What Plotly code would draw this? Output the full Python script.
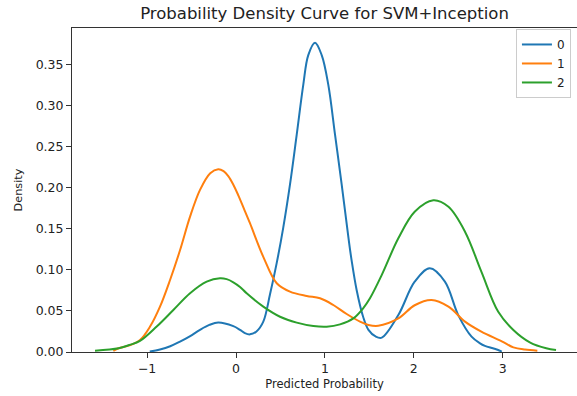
import plotly.graph_objects as go

# Values
x0 = [-0.97, -0.855, -0.74, -0.63, -0.52, -0.405, -0.3, -0.2, -0.03, 0.045, 0.1, 0.157, 0.23, 0.307, 0.382, 0.457, 0.532,
      0.607, 0.683, 0.757, 0.813, 0.889, 0.964, 1.038, 1.114, 1.189, 1.264, 1.30, 1.357, 1.43, 1.49, 1.57, 1.64, 1.826, 2.01,
      2.18, 2.35, 2.50, 2.65, 2.745, 2.80, 2.89, 2.95, 2.99]
y0 = [0.0005, 0.003, 0.007, 0.0126, 0.019, 0.027, 0.033, 0.036, 0.0315, 0.027, 0.023, 0.0215, 0.025, 0.037, 0.07, 0.108, 0.152,
      0.204, 0.265, 0.326, 0.362, 0.377, 0.362, 0.326, 0.265, 0.204, 0.140, 0.112, 0.0756, 0.043, 0.027, 0.019, 0.0175, 0.045, 0.0857,
      0.102, 0.0857, 0.045, 0.0187, 0.0106, 0.0075, 0.0045, 0.0024, 0.0005]

x1 = [-1.38, -1.32, -1.2, -1.08, -0.967, -0.855, -0.742, -0.63, -0.517, -0.405, -0.29, -0.2, -0.14, -0.087, -0.03, 0.026, 0.09,
      0.157, 0.307, 0.458, 0.607, 0.795, 0.945, 1.095, 1.245, 1.395, 1.49, 1.60, 1.826, 2.01, 2.20, 2.39, 2.576, 2.76, 2.99,
      3.12, 3.25, 3.39]
y1 = [0.0015, 0.0045, 0.008, 0.0146, 0.031, 0.0553, 0.0878, 0.124, 0.165, 0.1976, 0.218, 0.2228, 0.2205, 0.2145, 0.204, 0.191, 0.1745,
      0.157, 0.116, 0.0838, 0.0736, 0.0683, 0.0655, 0.0573, 0.0463, 0.037, 0.033, 0.032, 0.041, 0.057, 0.0634, 0.0553, 0.037, 0.0248, 0.013,
      0.0057, 0.003, 0.0016]

x2 = [-1.586, -1.32, -1.2, -1.08, -0.892, -0.705, -0.517, -0.33, -0.18, -0.105, -0.03, 0.045, 0.12, 0.307, 0.495, 0.683, 0.87,
      1.02, 1.17, 1.32, 1.43, 1.507, 1.64, 1.826, 2.01, 2.22, 2.39, 2.576, 2.76, 2.95, 3.12, 3.31, 3.49, 3.6]
y2 = [0.0016, 0.0045, 0.0085, 0.0135, 0.031, 0.0512, 0.0716, 0.0857, 0.0899, 0.0888, 0.085, 0.0793, 0.0716, 0.0553, 0.043, 0.0358, 0.0317,
      0.0309, 0.0337, 0.041, 0.0533, 0.0655, 0.094, 0.1386, 0.171, 0.185, 0.177, 0.1467, 0.098, 0.049, 0.0268, 0.0114, 0.0045, 0.0024]

series = [("0", x0, y0, "#1f77b4"), ("1", x1, y1, "#ff7f0e"), ("2", x2, y2, "#2ca02c")]
x_ticks = [-1, 0, 1, 2, 3]
y_ticks = [0.0, 0.05, 0.10, 0.15, 0.20, 0.25, 0.30, 0.35]

FONT = "DejaVu Sans"
fig = go.Figure()
for name, xs, ys, col in series:
    fig.add_trace(go.Scatter(x=xs, y=ys, mode="lines", name=name,
                             line=dict(color=col, width=2, shape="spline", smoothing=1.0)))

fig.update_layout(
    width=577, height=396,
    margin=dict(l=72, r=0, t=28, b=44),
    paper_bgcolor="white", plot_bgcolor="white",
    font=dict(family=FONT, size=12.5, color="#222"),
    title=dict(text="Probability Density Curve for SVM+Inception", xref="paper", x=0.5,
               xanchor="center", yref="container", y=1 - 13.5 / 396, yanchor="middle",
               font=dict(family=FONT, size=16.5, color="#222")),
    showlegend=True,
    legend=dict(x=0.988, y=0.997, xanchor="right", yanchor="top",
                bgcolor="white", bordercolor="#cccccc", borderwidth=1,
                font=dict(family=FONT, size=12, color="#222"), tracegroupgap=0),
)
fig.update_xaxes(range=[-1.845, 3.836], tickvals=x_ticks, ticks="outside", ticklen=5, tickcolor="#333",
                 showline=True, linecolor="#333", linewidth=1, mirror=True, showgrid=False, zeroline=False,
                 title=dict(text="Predicted Probability", standoff=4, font=dict(family=FONT, size=11.5, color="#222")))
fig.update_yaxes(range=[0, 0.395], tickvals=y_ticks, tickformat=".2f", ticks="outside", ticklen=5, tickcolor="#333",
                 showline=True, linecolor="#333", linewidth=1, mirror=False, showgrid=False, zeroline=False,
                 title=dict(text="Density", standoff=10, font=dict(family=FONT, size=11.3, color="#222")))

fig.write_html("out.html")
